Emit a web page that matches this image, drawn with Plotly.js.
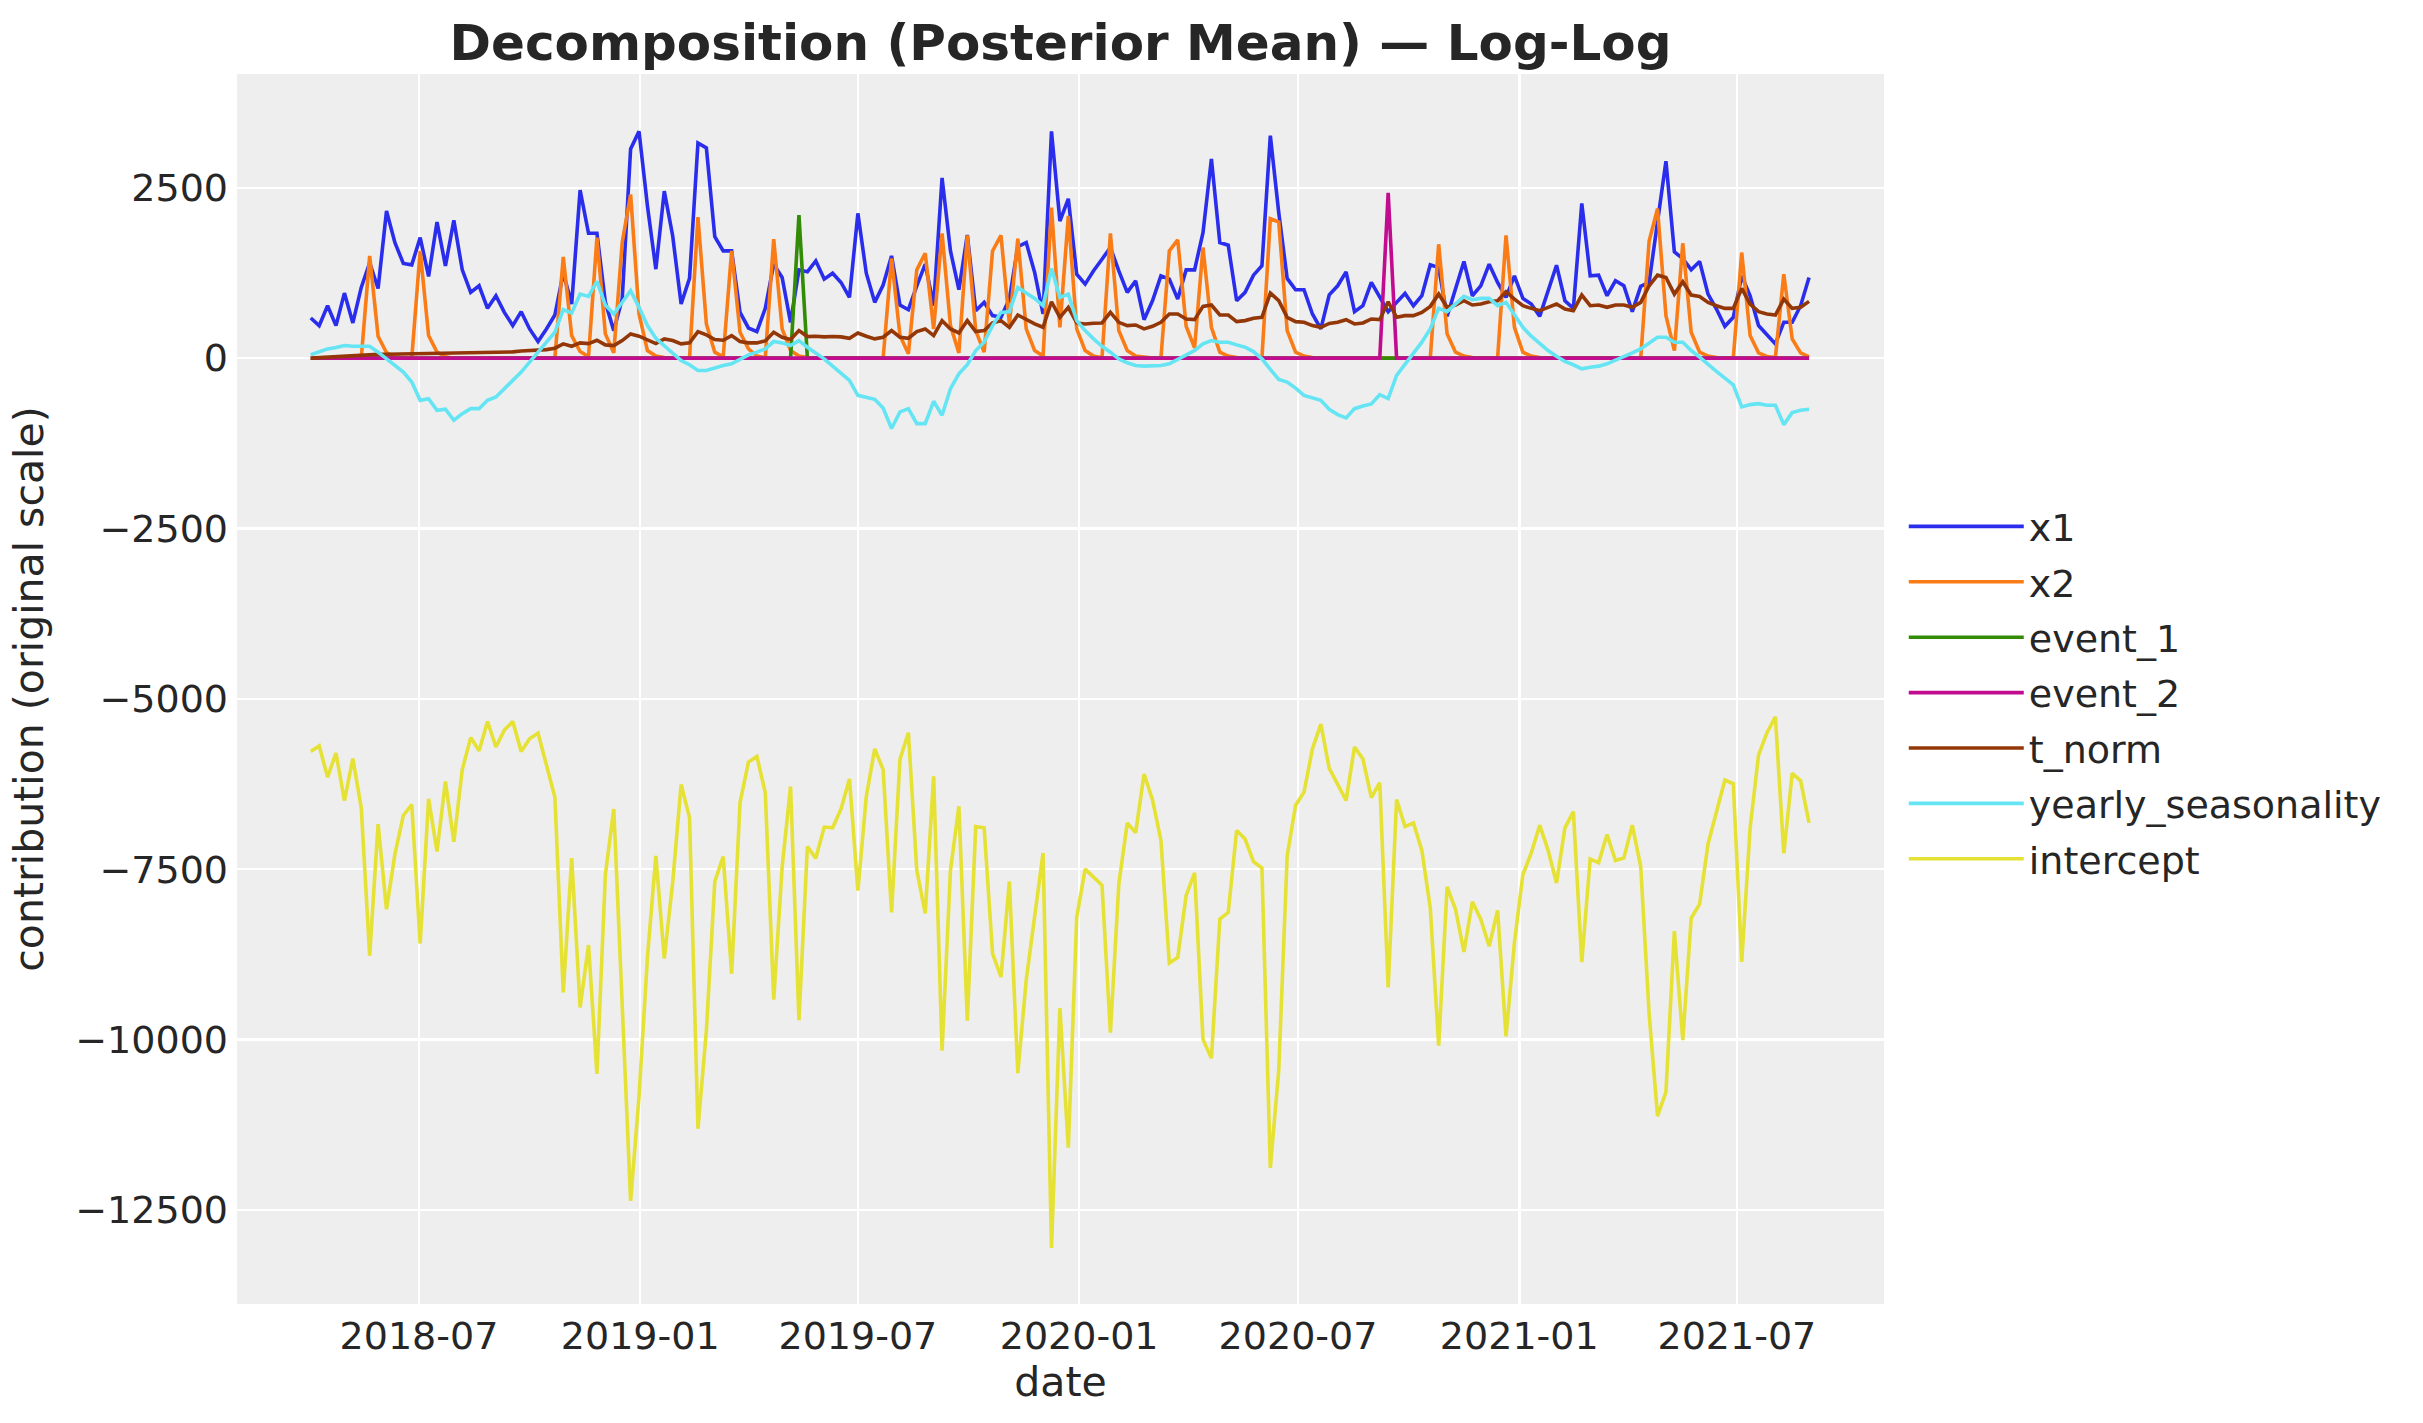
<!DOCTYPE html>
<html>
<head>
<meta charset="utf-8">
<script src="https://cdn.plot.ly/plotly-3.0.1.min.js"></script>
<style>html,body{margin:0;padding:0;background:#fff;}#chart{width:2423px;height:1423px;}</style>
</head>
<body>
<div id="chart"></div>
<script>
const dates2018 = ["2018-04-02","2018-04-09","2018-04-16","2018-04-23","2018-04-30","2018-05-07","2018-05-14","2018-05-21","2018-05-28","2018-06-04","2018-06-11","2018-06-18","2018-06-25","2018-07-02","2018-07-09","2018-07-16","2018-07-23","2018-07-30","2018-08-06","2018-08-13","2018-08-20","2018-08-27","2018-09-03","2018-09-10","2018-09-17","2018-09-24","2018-10-01","2018-10-08","2018-10-15","2018-10-22","2018-10-29","2018-11-05","2018-11-12","2018-11-19","2018-11-26","2018-12-03","2018-12-10","2018-12-17","2018-12-24","2018-12-31"];
const dates2019 = ["2019-01-07","2019-01-14","2019-01-21","2019-01-28","2019-02-04","2019-02-11","2019-02-18","2019-02-25","2019-03-04","2019-03-11","2019-03-18","2019-03-25","2019-04-01","2019-04-08","2019-04-15","2019-04-22","2019-04-29","2019-05-06","2019-05-13","2019-05-20","2019-05-27","2019-06-03","2019-06-10","2019-06-17","2019-06-24","2019-07-01","2019-07-08","2019-07-15","2019-07-22","2019-07-29","2019-08-05","2019-08-12","2019-08-19","2019-08-26","2019-09-02","2019-09-09","2019-09-16","2019-09-23","2019-09-30","2019-10-07","2019-10-14","2019-10-21","2019-10-28","2019-11-04","2019-11-11","2019-11-18","2019-11-25","2019-12-02","2019-12-09","2019-12-16","2019-12-23","2019-12-30"];
const dates2020 = ["2020-01-06","2020-01-13","2020-01-20","2020-01-27","2020-02-03","2020-02-10","2020-02-17","2020-02-24","2020-03-02","2020-03-09","2020-03-16","2020-03-23","2020-03-30","2020-04-06","2020-04-13","2020-04-20","2020-04-27","2020-05-04","2020-05-11","2020-05-18","2020-05-25","2020-06-01","2020-06-08","2020-06-15","2020-06-22","2020-06-29","2020-07-06","2020-07-13","2020-07-20","2020-07-27","2020-08-03","2020-08-10","2020-08-17","2020-08-24","2020-08-31","2020-09-07","2020-09-14","2020-09-21","2020-09-28","2020-10-05","2020-10-12","2020-10-19","2020-10-26","2020-11-02","2020-11-09","2020-11-16","2020-11-23","2020-11-30","2020-12-07","2020-12-14","2020-12-21","2020-12-28"];
const dates2021 = ["2021-01-04","2021-01-11","2021-01-18","2021-01-25","2021-02-01","2021-02-08","2021-02-15","2021-02-22","2021-03-01","2021-03-08","2021-03-15","2021-03-22","2021-03-29","2021-04-05","2021-04-12","2021-04-19","2021-04-26","2021-05-03","2021-05-10","2021-05-17","2021-05-24","2021-05-31","2021-06-07","2021-06-14","2021-06-21","2021-06-28","2021-07-05","2021-07-12","2021-07-19","2021-07-26","2021-08-02","2021-08-09","2021-08-16","2021-08-23","2021-08-30"];
const dates = dates2018.concat(dates2019, dates2020, dates2021);

const x1 = [590,478,770,478,955,517,1038,1400,1023,2159,1696,1389,1369,1769,1199,1998,1355,2022,1296,965,
1062,731,916,672,478,682,429,244,429,633,1250,794,2466,1832,1832,819,404,867,3070,3328,
2232,1306,2451,1793,794,1170,3158,3085,1784,1574,1574,672,443,390,731,1379,1184,526,1296,1267,
1428,1160,1247,1111,892,2125,1247,819,1072,1501,780,711,1062,1379,770,2646,1574,1004,1808,697,
819,624,600,867,1637,1696,1257,648,3328,2013,2339,1233,1087,1282,1452,1623,1282,965,1135,565,
843,1208,1160,867,1296,1296,1842,2924,1696,1657,843,965,1218,1355,3265,2134,1170,1004,1004,648,
429,930,1062,1267,682,770,1111,892,682,819,950,770,916,1369,1330,614,1023,1418,916,1062,
1379,1111,892,1208,877,794,614,989,1364,843,731,2271,1208,1218,916,1135,1062,682,1053,1111,
2037,2890,1559,1462,1296,1418,940,721,468,599,1208,916,478,341,210,526,526,770,1184];

const x2 = [0,0,0,0,0,0,0,1500,322,80,15,0,0,1574,331,88,20,0,0,0,
0,0,0,0,0,0,0,0,0,0,1486,331,97,25,1769,356,78,1696,2402,648,
112,30,8,2,0,0,2071,502,88,20,1574,380,136,30,8,1745,429,112,30,8,
2,0,0,0,0,0,0,0,0,1462,331,63,1296,1540,429,1832,478,78,1803,404,
88,1574,1803,500,1754,429,112,30,2208,453,2086,429,112,30,5,1832,404,112,30,10,
3,0,1574,1735,468,150,1623,453,88,30,8,2,0,0,2047,1998,404,88,30,8,
2,0,0,0,0,0,0,0,0,0,0,0,0,0,1671,356,88,30,8,2,
0,0,1803,453,88,30,8,2,0,0,0,0,0,0,0,0,0,0,0,1720,
2193,624,112,1686,380,88,30,8,2,0,1550,331,78,25,8,1233,283,78,20];

const event1 = [0,0,0,0,0,0,0,0,0,0,0,0,0,0,0,0,0,0,0,0,
0,0,0,0,0,0,0,0,0,0,0,0,0,0,0,0,0,0,0,0,
0,0,0,0,0,0,0,0,0,0,0,0,0,0,0,0,0,0,2100,0,
0,0,0,0,0,0,0,0,0,0,0,0,0,0,0,0,0,0,0,0,
0,0,0,0,0,0,0,0,0,0,0,0,0,0,0,0,0,0,0,0,
0,0,0,0,0,0,0,0,0,0,0,0,0,0,0,0,0,0,0,0,
0,0,0,0,0,0,0,0,0,0,0,0,0,0,0,0,0,0,0,0,
0,0,0,0,0,0,0,0,0,0,0,0,0,0,0,0,0,0,0,0,
0,0,0,0,0,0,0,0,0,0,0,0,0,0,0,0,0,0,0];

const event2 = [0,0,0,0,0,0,0,0,0,0,0,0,0,0,0,0,0,0,0,0,
0,0,0,0,0,0,0,0,0,0,0,0,0,0,0,0,0,0,0,0,
0,0,0,0,0,0,0,0,0,0,0,0,0,0,0,0,0,0,0,0,
0,0,0,0,0,0,0,0,0,0,0,0,0,0,0,0,0,0,0,0,
0,0,0,0,0,0,0,0,0,0,0,0,0,0,0,0,0,0,0,0,
0,0,0,0,0,0,0,0,0,0,0,0,0,0,0,0,0,0,0,0,
0,0,0,0,0,0,0,0,2427,0,0,0,0,0,0,0,0,0,0,0,
0,0,0,0,0,0,0,0,0,0,0,0,0,0,0,0,0,0,0,0,
0,0,0,0,0,0,0,0,0,0,0,0,0,0,0,0,0,0,0];

const tNorm = [0,8,15,22,28,35,42,50,55,58,60,62,64,70,68,72,74,78,78,80,
82,84,88,90,92,105,108,110,125,146,210,175,224,214,263,195,185,258,356,322,
273,214,283,258,210,224,390,341,273,263,331,244,224,224,253,380,307,273,404,317,
322,312,317,312,292,370,322,283,307,404,307,292,390,429,331,551,429,370,551,390,
404,517,551,453,633,565,502,453,828,599,746,517,502,512,517,672,526,478,487,429,
468,526,648,648,575,565,760,780,633,633,536,551,585,599,955,843,599,536,526,478,
453,510,526,565,502,517,575,565,828,599,624,624,672,760,940,746,780,843,780,794,
828,843,975,867,770,731,697,746,794,721,697,926,770,780,746,780,780,746,819,1062,
1218,1184,940,1121,926,906,819,770,731,731,1023,794,682,648,633,867,731,746,833];

const yearly = [49,97,136,156,185,175,175,175,88,-10,-107,-205,-351,-619,-594,-765,-750,-911,-814,-741,
-741,-619,-570,-448,-326,-205,-58,88,234,380,711,663,940,906,1126,780,648,819,989,746,
478,292,185,78,-34,-97,-180,-180,-141,-107,-83,-10,49,88,136,244,224,185,258,161,
78,-10,-117,-229,-326,-546,-570,-604,-731,-1033,-789,-741,-960,-960,-633,-838,-448,-229,-97,112,
234,478,672,682,1038,965,877,770,1316,892,940,551,404,283,175,88,-10,-68,-107,-117,
-117,-107,-83,-19,49,112,210,258,234,234,195,161,97,-10,-166,-312,-351,-439,-546,-585,
-619,-750,-828,-877,-741,-702,-672,-536,-594,-253,-97,63,234,429,731,682,794,906,858,877,
877,770,819,624,453,322,210,112,29,-49,-97,-156,-132,-117,-83,-34,15,78,136,224,
307,307,234,234,112,15,-97,-195,-292,-390,-716,-682,-668,-692,-692,-975,-799,-765,-750];

const intercept = [-5772,-5689,-6147,-5794,-6495,-5877,-6600,-8767,-6837,-8088,-7278,-6710,-6550,-8590,-6467,-7239,-6213,-7096,-6037,-5568,
-5761,-5331,-5706,-5458,-5331,-5772,-5585,-5502,-5971,-6439,-9307,-7338,-9528,-8612,-10504,-7581,-6616,-9456,-12368,-10835,
-8794,-7305,-8811,-7691,-6257,-6743,-11309,-9870,-7680,-7316,-9032,-6522,-5927,-5844,-6379,-9412,-7471,-6285,-9715,-7167,
-7340,-6881,-6892,-6616,-6175,-7813,-6434,-5733,-6037,-8133,-5888,-5496,-7515,-8149,-6136,-10162,-7515,-6577,-9721,-6875,
-6892,-8739,-9081,-7680,-10493,-9125,-8188,-7261,-13057,-9539,-11585,-8204,-7498,-7609,-7735,-9897,-7719,-6820,-6963,-6103,
-6478,-7074,-8877,-8794,-7884,-7553,-9997,-10272,-8232,-8133,-6930,-7057,-7388,-7482,-11883,-10449,-7305,-6561,-6368,-5733,
-5370,-6020,-6246,-6489,-5706,-5882,-6450,-6230,-9236,-6478,-6875,-6820,-7223,-8066,-10090,-7758,-8088,-8712,-7978,-8232,
-8629,-8105,-9952,-8574,-7581,-7261,-6853,-7223,-7702,-6892,-6655,-8861,-7349,-7405,-6991,-7371,-7333,-6853,-7460,-9622,
-11122,-10769,-8408,-10008,-8215,-8011,-7129,-6655,-6191,-6246,-8861,-6892,-5827,-5496,-5265,-7267,-6092,-6202,-6820];

const seriesNames = ["x1","x2","event_1","event_2","t_norm","yearly_seasonality","intercept"];
const seriesColors = ["#2a2eec","#fa7c17","#328c06","#c10c90","#933708","#65e5f3","#e6e135"];
const seriesValues = [x1, x2, event1, event2, tNorm, yearly, intercept];

const yTickVals = [2500, 0, -2500, -5000, -7500, -10000, -12500];
const yTickText = ["2500", "0", "\u22122500", "\u22125000", "\u22127500", "\u221210000", "\u221212500"];

const traces = seriesNames.map((name, k) => ({
  type: "scatter",
  mode: "lines",
  name: name,
  legendgroup: name,
  x: dates,
  y: seriesValues[k],
  line: {color: seriesColors[k], width: 3.6}
}));

const textColor = "#262626";
const fontFamily = "DejaVu Sans, sans-serif";

const layout = {
  width: 2423,
  height: 1423,
  paper_bgcolor: "#ffffff",
  plot_bgcolor: "#eeeeee",
  margin: {l: 237, r: 539, t: 74, b: 119, pad: 0},
  font: {family: fontFamily, size: 38, color: textColor},
  title: {
    text: "<b>Decomposition (Posterior Mean) \u2014 Log-Log</b>",
    font: {family: fontFamily, size: 50, color: textColor},
    x: 0.5, xanchor: "center", xref: "paper",
    y: 0.970, yanchor: "middle"
  },
  xaxis: {
    type: "date",
    range: ["2018-01-30 16:00", "2021-10-31 08:00"],
    tick0: "2018-01-01",
    dtick: "M6",
    tickformat: "%Y-%m",
    showgrid: true,
    gridcolor: "#ffffff",
    gridwidth: 2.5,
    zeroline: false,
    showline: false,
    ticks: "",
    ticklabelstandoff: 6,
    tickfont: {family: fontFamily, size: 38, color: textColor},
    title: {text: "date", font: {family: fontFamily, size: 41, color: textColor}, standoff: 8},
    automargin: false
  },
  yaxis: {
    range: [-13880, 4170],
    tickvals: yTickVals,
    ticktext: yTickText,
    showgrid: true,
    gridcolor: "#ffffff",
    gridwidth: 2.5,
    zeroline: false,
    showline: false,
    ticks: "",
    ticklabelstandoff: 8,
    tickfont: {family: fontFamily, size: 38, color: textColor},
    title: {text: "contribution (original scale)", font: {family: fontFamily, size: 41, color: textColor}, standoff: 18},
    automargin: false
  },
  showlegend: true,
  legend: {
    x: 1.012, xanchor: "left",
    y: 0.497, yanchor: "middle",
    font: {family: fontFamily, size: 38, color: textColor},
    bgcolor: "rgba(0,0,0,0)",
    borderwidth: 0,
    traceorder: "grouped",
    tracegroupgap: 3,
    itemwidth: 115
  }
};

Plotly.newPlot("chart", traces, layout, {displayModeBar: false, staticPlot: true});
</script>
</body>
</html>
